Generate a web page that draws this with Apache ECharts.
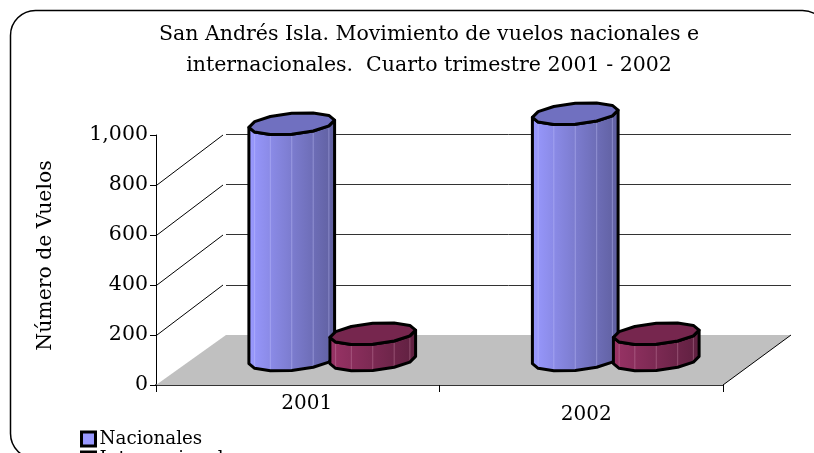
<!DOCTYPE html>
<html><head><meta charset="utf-8">
<style>html,body{margin:0;padding:0;background:#fff}#c{width:814px;height:453px}</style>
<script src="https://cdn.jsdelivr.net/npm/echarts@6/dist/echarts.min.js"></script>
</head><body><div id="c"></div>
<script>
const categories = ['2001', '2002'];
const nacionales = [945, 985];
const internacionales = [105, 105];
const wallTicks = [200, 400, 600, 800];
const titleLines = ['San Andrés Isla. Movimiento de vuelos nacionales e', 'internacionales.  Cuarto trimestre 2001 - 2002'];
const FONT = '"DejaVu Serif", serif';
const DEPTH_X = 69, DEPTH_Y = 50;

function ringPoint(cx, cy, t) {
  return [cx + 40.5 * Math.cos(t) + 14 * Math.sin(t), cy - 11 * Math.sin(t)];
}
function ring(cx, cy, from, to, n) {
  const pts = [];
  for (let i = 0; i <= n; i++) pts.push(ringPoint(cx, cy, from + (to - from) * i / n));
  return pts;
}
function cylinder(offset, cLeft, cRight, cTop, cLine) {
  return function (params, api) {
    const cat = api.value(0), val = api.value(1);
    const base = api.coord([cat, 0]);
    const top = api.coord([cat, val]);
    const cx = base[0] + DEPTH_X / 2 + offset;
    const by = base[1] - DEPTH_Y / 2, ty = top[1] - DEPTH_Y / 2;
    const a0 = Math.atan2(14, 40.5);
    const front = ring(cx, by, Math.PI + a0, 2 * Math.PI + a0, 6);   // base, left to right
    const frontTop = ring(cx, ty, 2 * Math.PI + a0, Math.PI + a0, 6); // top, right to left
    const body = front.concat(frontTop);
    const children = [{
      type: 'polygon', shape: { points: body },
      style: { fill: new echarts.graphic.LinearGradient(0, 0, 1, 0, [{ offset: 0, color: cLeft }, { offset: 1, color: cRight }]), stroke: null }
    }];
    for (let i = 1; i < 6; i++) {
      const p = front[i], q = frontTop[6 - i];
      children.push({ type: 'line', shape: { x1: p[0], y1: p[1], x2: q[0], y2: q[1] }, style: { stroke: cLine, lineWidth: 1, opacity: 0.4 } });
    }
    children.push({ type: 'polygon', shape: { points: body }, style: { fill: 'none', stroke: '#000', lineWidth: 3, lineJoin: 'round' } });
    children.push({ type: 'polygon', shape: { points: ring(cx, ty, a0, a0 + 2 * Math.PI, 12).slice(0, 12) }, style: { fill: cTop, stroke: '#000', lineWidth: 3, lineJoin: 'round' } });
    return { type: 'group', children };
  };
}
const chart = echarts.init(document.getElementById('c'), null, { renderer: 'canvas' });
chart.setOption({
  animation: false,
  backgroundColor: '#fff',
  title: {
    text: titleLines.join('\n'), left: 424, top: 14, textAlign: 'center',
    textStyle: { fontFamily: FONT, fontWeight: 'normal', fontSize: 20.5, lineHeight: 31, color: '#000' }
  },
  graphic: [{
    type: 'rect', z: -1, shape: { x: 10.5, y: 10.5, width: 817, height: 448, r: 25 },
    style: { fill: '#fff', stroke: '#000', lineWidth: 1.5 }
  }],
  legend: {
    orient: 'vertical', left: 80, top: 430, height: 120, itemGap: 2, padding: 0,
    icon: 'rect', itemWidth: 14, itemHeight: 14,
    itemStyle: { borderColor: '#000', borderWidth: 3 },
    textStyle: { fontFamily: FONT, fontSize: 18.3, color: '#000', padding: [0, 0, 0, -1] },
    data: ['Nacionales', 'Internacionales']
  },
  grid: [
    { left: 156, top: 135, width: 567, height: 250 },
    { left: 226, top: 134, width: 565, height: 201 }
  ],
  xAxis: [{
    type: 'category', data: categories, gridIndex: 0,
    axisLine: { lineStyle: { color: '#333', width: 2 } },
    axisTick: { show: true, length: 7, lineStyle: { color: '#000', width: 1 } },
    axisLabel: {
      margin: 9, fontFamily: FONT, fontSize: 20, color: '#000',
      formatter: (v, i) => i === 1 ? '{b|' + v + '}' : '{a|' + v + '}',
      rich: {
        a: { fontFamily: FONT, fontSize: 20, color: '#000', padding: [0, 0, 0, 18] },
        b: { fontFamily: FONT, fontSize: 20, color: '#000', padding: [11, 0, 0, 10] }
      }
    }
  }, {
    type: 'category', data: categories, gridIndex: 1, show: false
  }],
  yAxis: [{
    type: 'value', min: 0, max: 1000, interval: 200, gridIndex: 0,
    name: 'Número de Vuelos', nameLocation: 'middle', nameGap: 100,
    nameTextStyle: { fontFamily: FONT, fontSize: 20.4, color: '#000', padding: [0, 0, 0, 9] },
    axisLine: { show: true, lineStyle: { color: '#000', width: 1 } },
    axisTick: { show: true, length: 6, lineStyle: { color: '#000', width: 1 } },
    axisLabel: { margin: 8, fontFamily: FONT, fontSize: 20.5, color: '#000', formatter: v => v.toLocaleString('en-US') },
    splitLine: { show: false }
  }, {
    type: 'value', min: 0, max: 800, interval: 200, gridIndex: 1,
    axisLine: { show: false }, axisTick: { show: false }, axisLabel: { show: false },
    splitLine: { show: true, showMinLine: false, lineStyle: { color: '#333', width: 1 } }
  }],
  series: [{
    type: 'custom', name: 'walls', silent: true, xAxisIndex: 0, yAxisIndex: 0, z: 1,
    data: wallTicks.map(v => [0, v]), encode: { x: 0, y: 1 },
    renderItem(params, api) {
      const y = api.coord([0, api.value(1)])[1], x = params.coordSys.x;
      return { type: 'line', shape: { x1: x + 1, y1: y, x2: x + DEPTH_X - 2, y2: y - DEPTH_Y }, style: { stroke: '#000', lineWidth: 1 } };
    }
  }, {
    type: 'custom', name: 'floor', silent: true, xAxisIndex: 0, yAxisIndex: 0, z: 2,
    data: [[0, 0]], encode: { x: 0, y: 1 },
    renderItem(params, api) {
      const c = params.coordSys, y = api.coord([0, 0])[1];
      const l = c.x, r = c.x + c.width;
      return { type: 'group', children: [
        { type: 'polygon', shape: { points: [[l, y], [r, y], [r + DEPTH_X - 1, y - DEPTH_Y], [l + DEPTH_X + 1, y - DEPTH_Y]] }, style: { fill: '#c0c0c0', stroke: null } },
        { type: 'line', shape: { x1: r, y1: y, x2: r + DEPTH_X - 1, y2: y - DEPTH_Y }, style: { stroke: '#000', lineWidth: 1 } }
      ] };
    }
  }, {
    type: 'custom', name: 'Nacionales', xAxisIndex: 0, yAxisIndex: 0, z: 3,
    itemStyle: { color: '#9999ff' },
    data: nacionales.map((v, i) => [i, v]), encode: { x: 0, y: 1 },
    renderItem: cylinder(-40.5, '#9999ff', '#5f5f9f', '#7070c0', '#c8c8ff')
  }, {
    type: 'custom', name: 'Internacionales', xAxisIndex: 0, yAxisIndex: 0, z: 4,
    itemStyle: { color: '#993366' },
    data: internacionales.map((v, i) => [i, v]), encode: { x: 0, y: 1 },
    renderItem: cylinder(40.5, '#993366', '#5f2040', '#76264e', '#d090b0')
  }]
});
</script></body></html>
